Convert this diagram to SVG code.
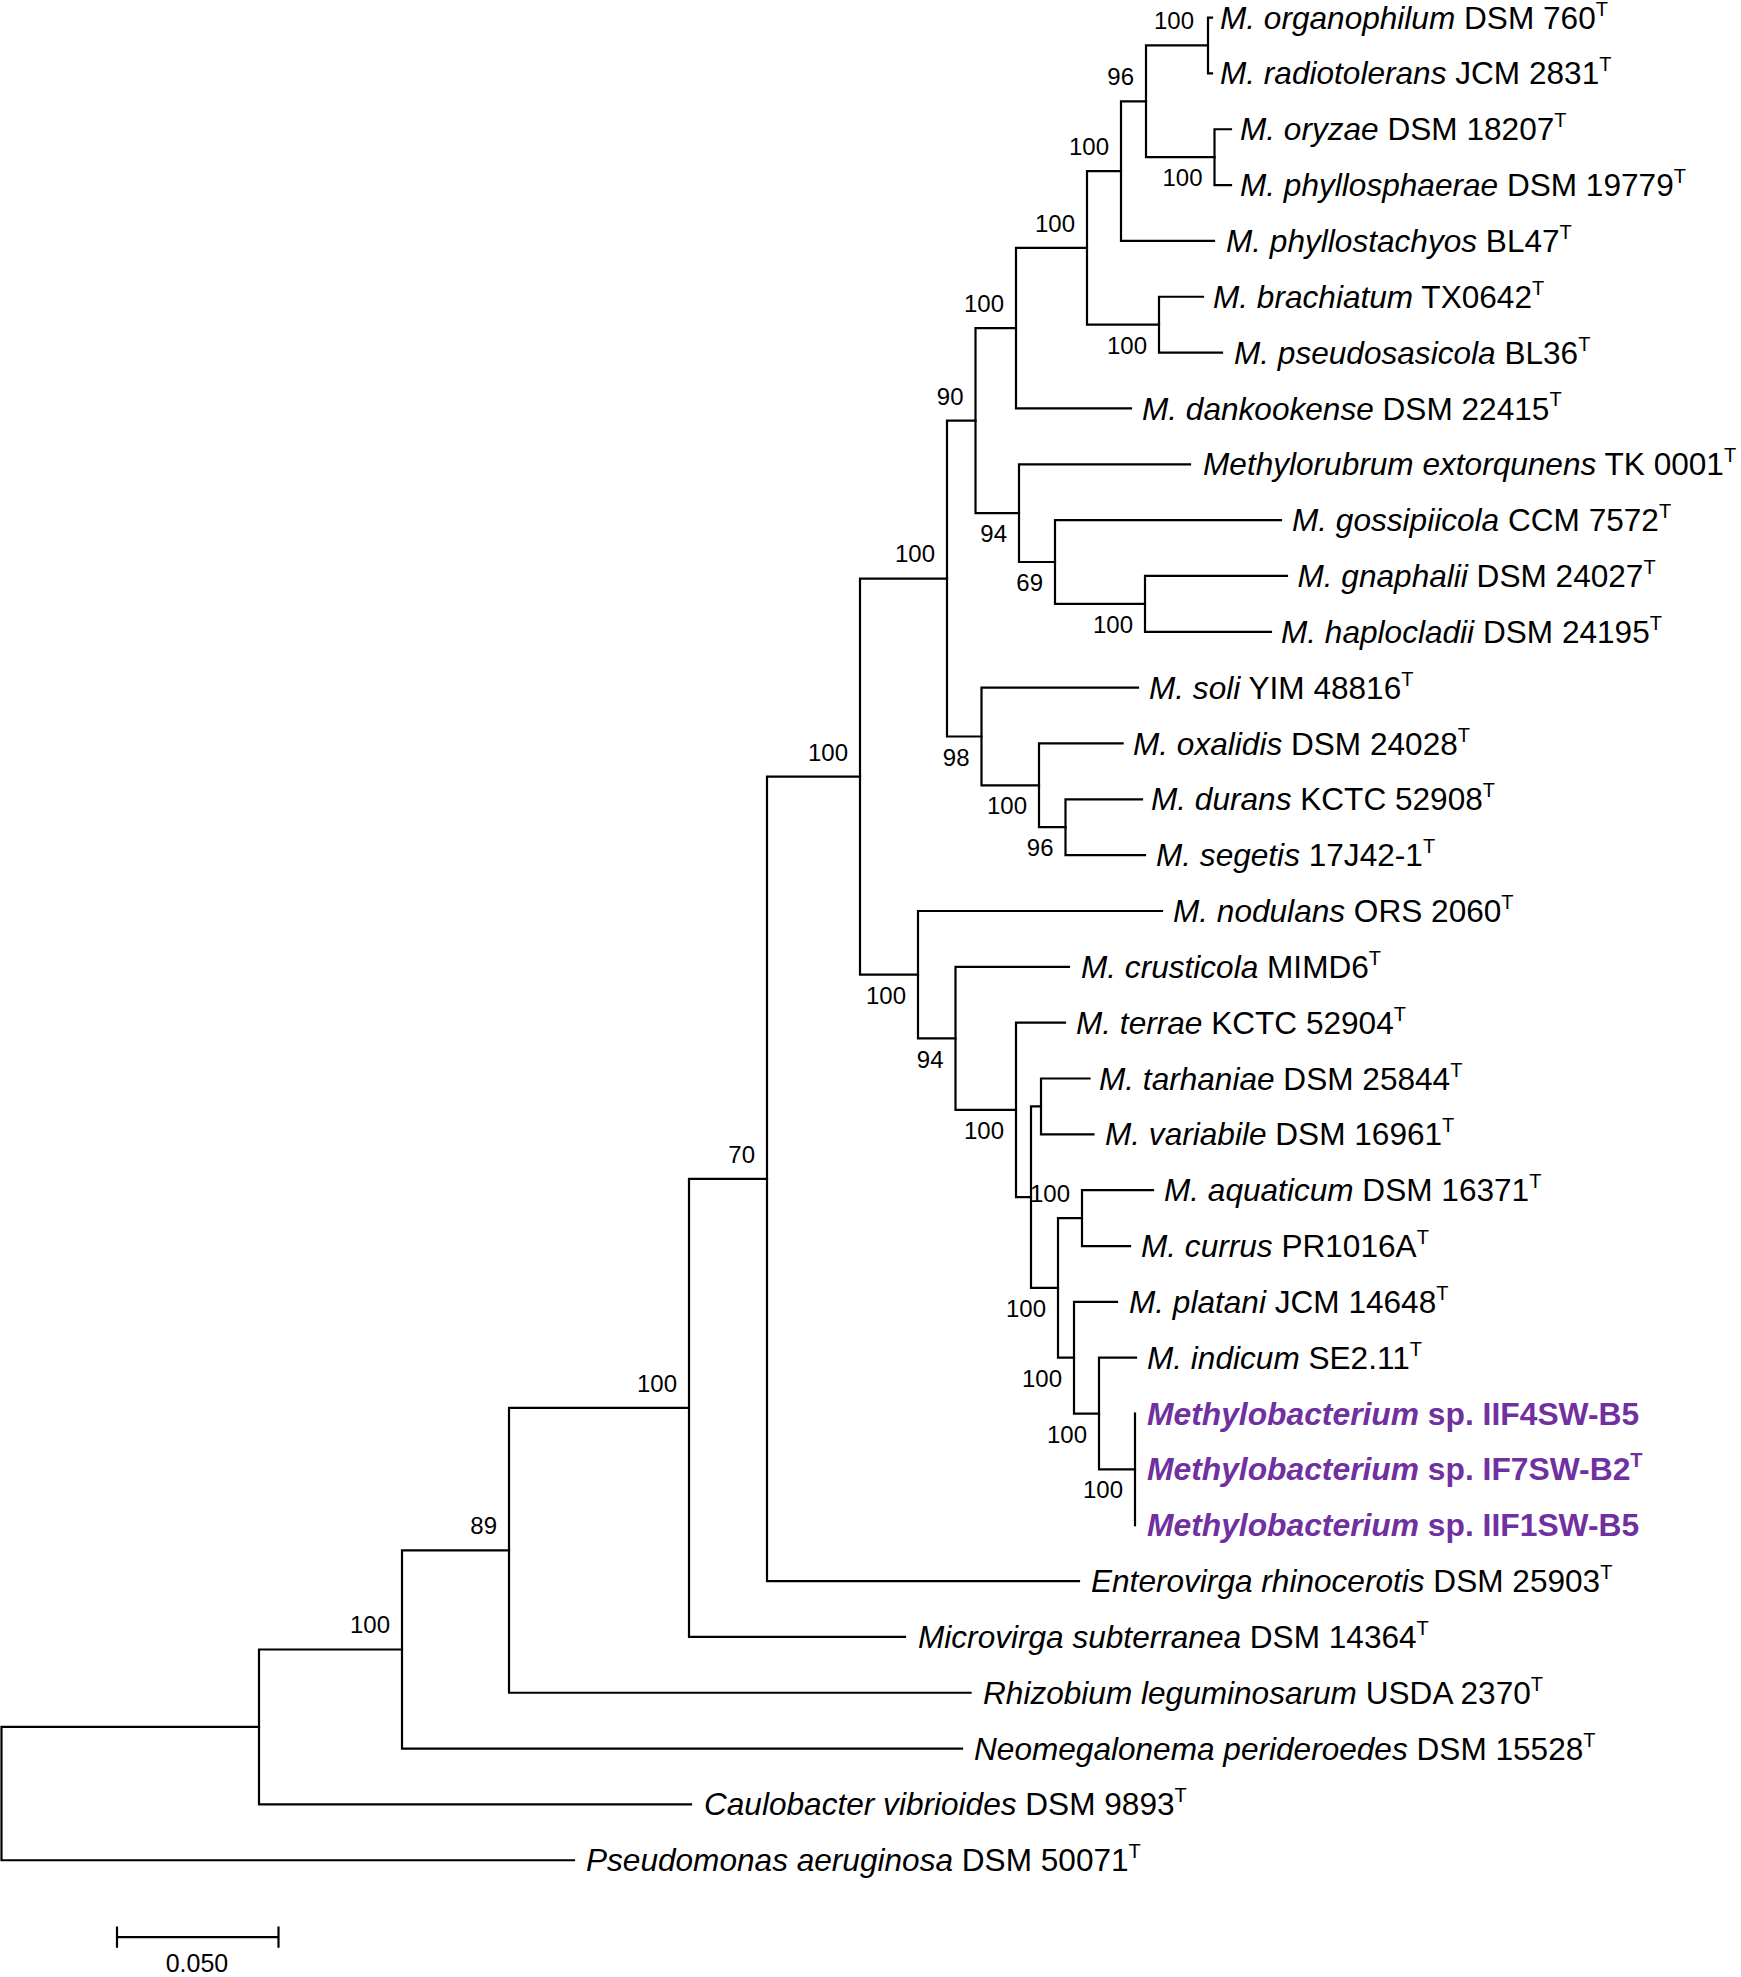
<svg xmlns="http://www.w3.org/2000/svg" width="1741" height="1977" viewBox="0 0 1741 1977">
<style>
.br{stroke:#000;stroke-width:2.2;fill:none;stroke-linecap:square}
.lab{font-family:"Liberation Sans",Arial,sans-serif;font-size:31.6px;fill:#000}
.it{font-style:italic}
.sup{font-size:20px}
.bs{font-family:"Liberation Sans",Arial,sans-serif;font-size:24px;fill:#000;text-anchor:end}
.pur{fill:#7030A0;font-weight:bold;font-size:31.8px}
.sc{font-family:"Liberation Sans",Arial,sans-serif;font-size:25px;fill:#000;text-anchor:middle}
</style>
<rect width="1741" height="1977" fill="#fff"/>
<g transform="scale(1,1.0034)">
<g id="connectors">
<path class="br" d="M1212,17.5 H1208 V73.15 H1212"/>
<path class="br" d="M1231,128.8 H1214.5 V184.45 H1231"/>
<path class="br" d="M1208,45.3 H1146 V156.6 H1214.5"/>
<path class="br" d="M1146,101 H1121 V240.1 H1214"/>
<path class="br" d="M1203,295.75 H1159 V351.4 H1222"/>
<path class="br" d="M1121,170.5 H1087 V323.6 H1159"/>
<path class="br" d="M1087,247 H1016 V407.05 H1131"/>
<path class="br" d="M1287,574 H1145 V629.65 H1271"/>
<path class="br" d="M1281,518.35 H1055 V601.8 H1145"/>
<path class="br" d="M1190,462.7 H1019 V560.1 H1055"/>
<path class="br" d="M1016,327 H975.5 V511.4 H1019"/>
<path class="br" d="M1142,796.6 H1065.5 V852.25 H1145"/>
<path class="br" d="M1122.6,740.95 H1039 V824.4 H1065.5"/>
<path class="br" d="M1138,685.3 H981.5 V782.7 H1039"/>
<path class="br" d="M975.5,419.2 H947 V734 H981.5"/>
<path class="br" d="M1089.5,1074.85 H1041 V1130.5 H1093.5"/>
<path class="br" d="M1153,1186.15 H1082 V1241.8 H1130"/>
<path class="br" d="M1135,1408.75 V1520.05"/>
<path class="br" d="M1136,1353.1 H1099 V1464.4 H1135"/>
<path class="br" d="M1117,1297.45 H1074 V1408.75 H1099"/>
<path class="br" d="M1082,1214 H1058 V1353.1 H1074"/>
<path class="br" d="M1041,1102.7 H1031 V1283.55 H1058"/>
<path class="br" d="M1065,1019.2 H1016 V1193.1 H1031"/>
<path class="br" d="M1069,963.55 H955.5 V1106.2 H1016"/>
<path class="br" d="M1162,907.9 H918 V1034.9 H955.5"/>
<path class="br" d="M947,576.6 H860 V971.4 H918"/>
<path class="br" d="M860,774 H767 V1575.7 H1079"/>
<path class="br" d="M767,1174.9 H689 V1631.35 H905"/>
<path class="br" d="M689,1403.1 H509 V1687 H970.5"/>
<path class="br" d="M509,1545.1 H402 V1742.65 H962"/>
<path class="br" d="M402,1643.9 H259 V1798.3 H691"/>
<path class="br" d="M259,1721.1 H1.5 V1853.95 H574"/>
</g>
<g id="leaves" class="lab">
<g id="n1"><text x="1220" y="28.5"><tspan class="it">M. organophilum</tspan> DSM 760<tspan class="sup" dy="-13">T</tspan></text></g>
<g id="n2"><text x="1220" y="84.2"><tspan class="it">M. radiotolerans</tspan> JCM 2831<tspan class="sup" dy="-13">T</tspan></text></g>
<g id="n3"><text x="1240" y="139.8"><tspan class="it">M. oryzae</tspan> DSM 18207<tspan class="sup" dy="-13">T</tspan></text></g>
<g id="n4"><text x="1240" y="195.5"><tspan class="it">M. phyllosphaerae</tspan> DSM 19779<tspan class="sup" dy="-13">T</tspan></text></g>
<g id="n5"><text x="1226" y="251.1"><tspan class="it">M. phyllostachyos</tspan> BL47<tspan class="sup" dy="-13">T</tspan></text></g>
<g id="n6"><text x="1213" y="306.8"><tspan class="it">M. brachiatum</tspan> TX0642<tspan class="sup" dy="-13">T</tspan></text></g>
<g id="n7"><text x="1234" y="362.4"><tspan class="it">M. pseudosasicola</tspan> BL36<tspan class="sup" dy="-13">T</tspan></text></g>
<g id="n8"><text x="1142" y="418.1"><tspan class="it">M. dankookense</tspan> DSM 22415<tspan class="sup" dy="-13">T</tspan></text></g>
<g id="n9"><text x="1203" y="473.7"><tspan class="it">Methylorubrum extorqunens</tspan> TK 0001<tspan class="sup" dy="-13">T</tspan></text></g>
<g id="n10"><text x="1292" y="529.4"><tspan class="it">M. gossipiicola</tspan> CCM 7572<tspan class="sup" dy="-13">T</tspan></text></g>
<g id="n11"><text x="1297.5" y="585"><tspan class="it">M. gnaphalii</tspan> DSM 24027<tspan class="sup" dy="-13">T</tspan></text></g>
<g id="n12"><text x="1281" y="640.7"><tspan class="it">M. haplocladii</tspan> DSM 24195<tspan class="sup" dy="-13">T</tspan></text></g>
<g id="n13"><text x="1149" y="696.3"><tspan class="it">M. soli</tspan> YIM 48816<tspan class="sup" dy="-13">T</tspan></text></g>
<g id="n14"><text x="1133" y="752"><tspan class="it">M. oxalidis</tspan> DSM 24028<tspan class="sup" dy="-13">T</tspan></text></g>
<g id="n15"><text x="1151" y="807.6"><tspan class="it">M. durans</tspan> KCTC 52908<tspan class="sup" dy="-13">T</tspan></text></g>
<g id="n16"><text x="1156" y="863.3"><tspan class="it">M. segetis</tspan> 17J42-1<tspan class="sup" dy="-13">T</tspan></text></g>
<g id="n17"><text x="1173" y="918.9"><tspan class="it">M. nodulans</tspan> ORS 2060<tspan class="sup" dy="-13">T</tspan></text></g>
<g id="n18"><text x="1081" y="974.6"><tspan class="it">M. crusticola</tspan> MIMD6<tspan class="sup" dy="-13">T</tspan></text></g>
<g id="n19"><text x="1076" y="1030.2"><tspan class="it">M. terrae</tspan> KCTC 52904<tspan class="sup" dy="-13">T</tspan></text></g>
<g id="n20"><text x="1099" y="1085.9"><tspan class="it">M. tarhaniae</tspan> DSM 25844<tspan class="sup" dy="-13">T</tspan></text></g>
<g id="n21"><text x="1105" y="1141.5"><tspan class="it">M. variabile</tspan> DSM 16961<tspan class="sup" dy="-13">T</tspan></text></g>
<g id="n22"><text x="1164" y="1197.2"><tspan class="it">M. aquaticum</tspan> DSM 16371<tspan class="sup" dy="-13">T</tspan></text></g>
<g id="n23"><text x="1141" y="1252.8"><tspan class="it">M. currus</tspan> PR1016A<tspan class="sup" dy="-13">T</tspan></text></g>
<g id="n24"><text x="1129" y="1308.5"><tspan class="it">M. platani</tspan> JCM 14648<tspan class="sup" dy="-13">T</tspan></text></g>
<g id="n25"><text x="1147" y="1364.1"><tspan class="it">M. indicum</tspan> SE2.11<tspan class="sup" dy="-13">T</tspan></text></g>
<g id="n26"><text class="pur" x="1147" y="1419.8"><tspan class="it">Methylobacterium</tspan> sp. IIF4SW-B5</text></g>
<g id="n27"><text class="pur" x="1147" y="1475.4"><tspan class="it">Methylobacterium</tspan> sp. IF7SW-B2<tspan class="sup" dy="-13">T</tspan></text></g>
<g id="n28"><text class="pur" x="1147" y="1531.1"><tspan class="it">Methylobacterium</tspan> sp. IIF1SW-B5</text></g>
<g id="n29"><text x="1091" y="1586.7"><tspan class="it">Enterovirga rhinocerotis</tspan> DSM 25903<tspan class="sup" dy="-13">T</tspan></text></g>
<g id="n30"><text x="918" y="1642.4"><tspan class="it">Microvirga subterranea</tspan> DSM 14364<tspan class="sup" dy="-13">T</tspan></text></g>
<g id="n31"><text x="983" y="1698"><tspan class="it">Rhizobium leguminosarum</tspan> USDA 2370<tspan class="sup" dy="-13">T</tspan></text></g>
<g id="n32"><text x="974" y="1753.7"><tspan class="it">Neomegalonema perideroedes</tspan> DSM 15528<tspan class="sup" dy="-13">T</tspan></text></g>
<g id="n33"><text x="704" y="1809.3"><tspan class="it">Caulobacter vibrioides</tspan> DSM 9893<tspan class="sup" dy="-13">T</tspan></text></g>
<g id="n34"><text x="586" y="1865"><tspan class="it">Pseudomonas aeruginosa</tspan> DSM 50071<tspan class="sup" dy="-13">T</tspan></text></g>
</g>
<g id="bootstrap" class="bs">
<text x="1194" y="29">100</text>
<text x="1134" y="85">96</text>
<text x="1202.5" y="185.6">100</text>
<text x="1109" y="154.5">100</text>
<text x="1147" y="352.6">100</text>
<text x="1075" y="231">100</text>
<text x="1004" y="311">100</text>
<text x="963.5" y="403.2">90</text>
<text x="1007" y="540.4">94</text>
<text x="1043" y="589.1">69</text>
<text x="1133" y="630.8">100</text>
<text x="935" y="560.6">100</text>
<text x="969.5" y="763">98</text>
<text x="1027" y="811.7">100</text>
<text x="1053.5" y="853.4">96</text>
<text x="848" y="758">100</text>
<text x="906" y="1000.4">100</text>
<text x="943.5" y="1063.9">94</text>
<text x="1004" y="1135.2">100</text>
<text x="1070" y="1198">100</text>
<text x="1046" y="1312.5">100</text>
<text x="1062" y="1382">100</text>
<text x="1087" y="1437.7">100</text>
<text x="1123" y="1493.4">100</text>
<text x="755" y="1158.9">70</text>
<text x="677" y="1387.1">100</text>
<text x="497" y="1529.1">89</text>
<text x="390" y="1627.9">100</text>
</g>
<g id="scalebar">
<path class="br" d="M117,1930.5 H278.5 M117,1921 V1940 M278.5,1921 V1940"/>
<text class="sc" x="197" y="1965">0.050</text>
</g>
</g>
</svg>
